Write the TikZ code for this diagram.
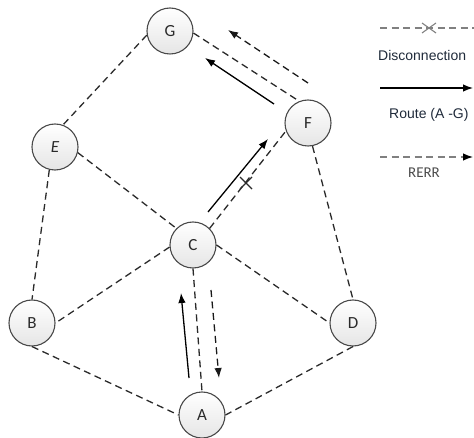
\documentclass[tikz,border=0pt]{standalone}
\usepackage{fontspec}
\setmainfont{Carlito}
\newfontfamily\arialf{Liberation Sans}
\usetikzlibrary{arrows.meta,calc}
\definecolor{edgec}{HTML}{2A2A2A}
\definecolor{txtc}{HTML}{2A2A2A}
\definecolor{legc}{HTML}{1F2A3A}
\tikzset{
  nd/.style={circle, draw=edgec!85, line width=1.1pt, minimum size=46pt, inner sep=0pt,
    top color=white, bottom color=gray!20, font=\fontsize{17}{17}\selectfont, text=txtc},
  lnk/.style={draw=edgec, line width=1.3pt, dash pattern=on 7pt off 4.5pt},
  routearr/.style={draw=black, line width=1.3pt, -{Latex[length=10pt,width=7.5pt]}},
  rerrarr/.style={draw=black!90, line width=1.3pt, dash pattern=on 7pt off 4.5pt, -{Latex[length=10pt,width=7.5pt]}},
  xmark/.style={draw=edgec, line width=1.1pt},
  legtxt/.style={font=\arialf\fontsize{14}{14}\selectfont, text=legc, inner sep=0pt}
}
\begin{document}
\begin{tikzpicture}[x=1pt,y=-1pt]
\useasboundingbox (0,0) rectangle (474,438);
% nodes
\node[nd] (G) at (170,31) {G};
\node[nd] (F) at (308,123) {F};
\node[nd] (E) at (55,147) {\itshape E};
\node[nd] (C) at (193,245) {C};
\node[nd] (B) at (32,323) {B};
\node[nd] (D) at (353,323) {D};
\node[nd] (A) at (202,415) {A};
% links
\draw[lnk] (G.190) -- (E.70);
\draw[lnk] (G.355) -- (F.112);
\draw[lnk] (E.346) -- (C.135);
\draw[lnk] (E.256) -- (B.north);
\draw[lnk] (C.45) -- (F.200);
\draw[lnk] (C.185) -- (B.east);
\draw[lnk] (C.east) -- (D.west);
\draw[lnk] (C.south) -- (A.north);
\draw[lnk] (F.281) -- (D.north);
\draw[lnk] (B.south) -- (A.west);
\draw[lnk] (D.south) -- (A.east);
% disconnection mark on C-F
\coordinate (X1) at (246,183);
\draw[xmark] ($(X1)+(-6,-6)$) -- ($(X1)+(6,6)$);
\draw[xmark] ($(X1)+(-6,6)$) -- ($(X1)+(6,-6)$);
% route arrows
\coordinate (r1s) at (189,378); \coordinate (r1e) at (181,293);
\draw[routearr] (r1s) -- (r1e);
\coordinate (r2s) at (208,212); \coordinate (r2e) at (268,139);
\draw[routearr] (r2s) -- (r2e);
\coordinate (r3s) at (274,104); \coordinate (r3e) at (205,58);
\draw[routearr] (r3s) -- (r3e);
% RERR arrows
\coordinate (e1s) at (308,83); \coordinate (e1e) at (228,30);
\draw[rerrarr] (e1s) -- (e1e);
\coordinate (e2s) at (211,290); \coordinate (e2e) at (219,378);
\draw[rerrarr] (e2s) -- (e2e);
% legend
\coordinate (l1s) at (380,28); \coordinate (l1e) at (474,28);
\draw[lnk, draw=gray] (l1s) -- (l1e);
\coordinate (lx) at (429,28);
\draw[xmark, draw=gray] ($(lx)+(-7,-5)$) -- ($(lx)+(7,5)$);
\draw[xmark, draw=gray] ($(lx)+(-7,5)$) -- ($(lx)+(7,-5)$);
\node[legtxt, anchor=west] (ltxt1) at (378,55) {Disconnection};
\coordinate (l2s) at (380,88); \coordinate (l2e) at (473,88);
\draw[routearr] (l2s) -- (l2e);
\node[legtxt, anchor=west] (ltxt2) at (389,115) {Route (A -G)};
\coordinate (l3s) at (380,157); \coordinate (l3e) at (473,157);
\draw[lnk, draw=gray, -{Latex[length=10pt,width=7.5pt,color=black]}] (l3s) -- (l3e);
\node[font=\fontsize{15}{15}\selectfont, text=black!70, inner sep=0pt] (ltxt3) at (424,173) {RERR};
\end{tikzpicture}
\end{document}
